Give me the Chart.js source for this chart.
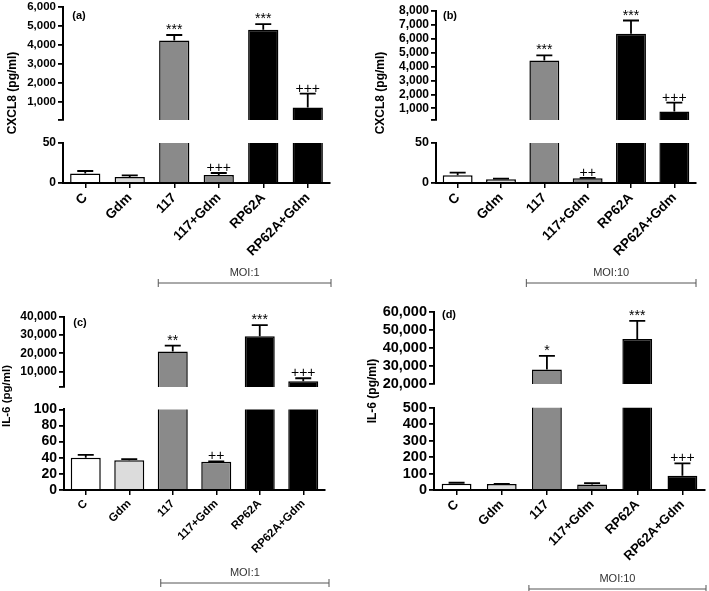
<!DOCTYPE html>
<html>
<head>
<meta charset="utf-8">
<script src="https://cdn.jsdelivr.net/npm/chart.js@4.4.1/dist/chart.umd.min.js"></script>
<style>
  body { margin: 0; background: #fff; }
  #page { position: relative; width: 709px; height: 591px; overflow: hidden; font-family: 'Liberation Sans', Arial, sans-serif; }
  #page canvas { position: absolute; }
  .txt { position: absolute; font-weight: bold; color: #000; white-space: nowrap; transform: translate(-50%, -50%); }
  .ytitle { transform: translate(-50%, -50%) rotate(-90deg); }
</style>
</head>
<body>
<div id="page"></div>
<script>
const categories = ['C', 'Gdm', '117', '117+Gdm', 'RP62A', 'RP62A+Gdm']

// (a) CXCL8, MOI 1
const cxcl8Moi1 = [11.8, 7.5, 4240, 10, 4800, 720]
const cxcl8Moi1Sem = [3.2, 2, 290, 2.5, 300, 730]
const cxcl8Moi1Sig = ['', '', '***', '+++', '***', '+++']

// (b) CXCL8, MOI 10
const cxcl8Moi10 = [9.6, 4.6, 4440, 5.9, 6370, 780]
const cxcl8Moi10Sem = [3.4, 0.8, 376, 0.6, 946, 634]
const cxcl8Moi10Sig = ['', '', '***', '++', '***', '+++']

// (c) IL-6, MOI 1
const il6Moi1 = [40, 37, 21070, 35, 29400, 4700]
const il6Moi1Sem = [3.7, 1.3, 3230, 0.5, 6100, 1600]
const il6Moi1Sig = ['', '', '**', '++', '***', '+++']

// (d) IL-6, MOI 10
const il6Moi10 = [38, 36, 28030, 34, 44860, 87]
const il6Moi10Sem = [6, 1, 7500, 8, 10090, 75]
const il6Moi10Sig = ['', '', '*', '', '***', '+++']

// tick labels, upper and lower segment of each broken axis
const ticksAUpper = [1000, 2000, 3000, 4000, 5000, 6000]
const ticksALower = [0, 50]
const ticksBUpper = [1000, 2000, 3000, 4000, 5000, 6000, 7000, 8000]
const ticksBLower = [0, 50]
const ticksCUpper = [10000, 20000, 30000, 40000]
const ticksCLower = [0, 20, 40, 60, 80, 100]
const ticksDUpper = [20000, 30000, 40000, 50000, 60000]
const ticksDLower = [0, 100, 200, 300, 400, 500]

const barColors = ['#ffffff', '#dcdcdc', '#8a8a8a', '#8a8a8a', '#000000', '#000000']

// layout of the four panels (page pixels)
const panels = [
  { label: '(a)', labelPos: [79, 15], yTitle: 'CXCL8 (pg/ml)', titlePos: [12, 93], titleSize: 12, moi: 'MOI:1',
    values: cxcl8Moi1, sem: cxcl8Moi1Sem, sig: cxcl8Moi1Sig,
    left: 0, areaLeft: 63, areaRight: 330, width: 340, canvasBottom: 290, xFont: 13.5, barPct: 0.68, sigFont: 14,
    upper: { min: 70, max: 6000, ticks: ticksAUpper, top: 7, bottom: 130, font: 11.5 },
    lower: { min: 0, max: 50, ticks: ticksALower, top: 143, bottom: 183, font: 12 },
    bracket: { from: -16, to: 1, y: 283 } },
  { label: '(b)', labelPos: [450, 15], yTitle: 'CXCL8 (pg/ml)', titlePos: [380, 93], titleSize: 12, moi: 'MOI:10',
    values: cxcl8Moi10, sem: cxcl8Moi10Sem, sig: cxcl8Moi10Sig,
    left: 355, areaLeft: 436, areaRight: 696, width: 351, canvasBottom: 290, xFont: 13.5, barPct: 0.69, sigFont: 14,
    upper: { min: 164, max: 8000, ticks: ticksBUpper, top: 11, bottom: 130, font: 12 },
    lower: { min: 0, max: 50, ticks: ticksBLower, top: 143, bottom: 183, font: 12.5 },
    bracket: { from: -18, to: 0, y: 283 } },
  { label: '(c)', labelPos: [80, 322], yTitle: 'IL-6 (pg/ml)', titlePos: [6, 396], titleSize: 11.5, moi: 'MOI:1',
    values: il6Moi1, sem: il6Moi1Sem, sig: il6Moi1Sig,
    left: 0, areaLeft: 64, areaRight: 325, width: 340, canvasBottom: 591, xFont: 11.5, barPct: 0.69, sigFont: 14,
    upper: { min: 1500, max: 40000, ticks: ticksCUpper, top: 317, bottom: 397, font: 12 },
    lower: { min: 0, max: 100, ticks: ticksCLower, top: 409, bottom: 490, font: 14 },
    bracket: { from: -12, to: 4, y: 583 } },
  { label: '(d)', labelPos: [449, 314], yTitle: 'IL-6 (pg/ml)', titlePos: [372, 391], titleSize: 12, moi: 'MOI:10',
    values: il6Moi10, sem: il6Moi10Sem, sig: il6Moi10Sig,
    left: 355, areaLeft: 434, areaRight: 705, width: 354, canvasBottom: 591, xFont: 13, barPct: 0.66, sigFont: 14,
    upper: { min: 20000, max: 60000, ticks: ticksDUpper, top: 311, bottom: 394, font: 14.5 },
    lower: { min: 0, max: 500, ticks: ticksDLower, top: 407, bottom: 490, font: 14.5 },
    bracket: { from: -18, to: 1, y: 589 } }
]

const page = document.querySelector('#page')
const fontFamily = "'Liberation Sans', Arial, sans-serif"
Chart.defaults.font.family = fontFamily
Chart.defaults.color = '#000'

function addText(text, pos, size, cls) {
  const el = document.createElement('div')
  el.className = 'txt ' + (cls || '')
  el.textContent = text
  el.style.left = pos[0] + 'px'
  el.style.top = pos[1] + 'px'
  el.style.fontSize = size + 'px'
  page.appendChild(el)
}

// SEM whiskers (upper half only) and significance marks
function errorBarPlugin(p) {
  return {
    id: 'errorBars',
    afterDatasetsDraw(chart) {
      const ctx = chart.ctx
      const y = chart.scales.y
      const bars = chart.getDatasetMeta(0).data
      ctx.save()
      ctx.strokeStyle = '#000'
      ctx.fillStyle = '#000'
      ctx.lineWidth = 1.8
      ctx.textAlign = 'center'
      ctx.textBaseline = 'alphabetic'
      ctx.font = p.sigFont + 'px ' + fontFamily
      p.values.forEach((v, i) => {
        const hi = v + p.sem[i]
        if (hi < y.min || hi > y.max) return
        const cx = bars[i].x
        const top = y.getPixelForValue(hi)
        const base = y.getPixelForValue(Math.max(v, y.min))
        ctx.beginPath()
        ctx.moveTo(cx, base)
        ctx.lineTo(cx, top)
        ctx.moveTo(cx - 8, top)
        ctx.lineTo(cx + 8, top)
        ctx.stroke()
        if (p.sig[i]) ctx.fillText(p.sig[i], cx, top - 1)
      })
      ctx.restore()
    }
  }
}

function bracketPlugin(p, canvasTop) {
  return {
    id: 'moiBracket',
    afterDraw(chart) {
      const ctx = chart.ctx
      const x0 = chart.scales.x.getPixelForValue(2) + p.bracket.from
      const x1 = chart.chartArea.right + p.bracket.to
      const yy = p.bracket.y - canvasTop
      ctx.save()
      ctx.strokeStyle = '#555'
      ctx.lineWidth = 1
      ctx.beginPath()
      ctx.moveTo(x0, yy)
      ctx.lineTo(x1, yy)
      ctx.moveTo(x0, yy - 4)
      ctx.lineTo(x0, yy + 4)
      ctx.moveTo(x1, yy - 4)
      ctx.lineTo(x1, yy + 4)
      ctx.stroke()
      ctx.fillStyle = '#333'
      ctx.font = '11px ' + fontFamily
      ctx.textAlign = 'center'
      ctx.textBaseline = 'middle'
      ctx.fillText(p.moi, (x0 + x1) / 2, yy - 10)
      ctx.restore()
    }
  }
}

function drawSegment(p, seg, lower) {
  const canvas = document.createElement('canvas')
  const top = seg.top - 10
  const bottom = lower ? p.canvasBottom : seg.bottom + 10
  canvas.width = p.width
  canvas.height = bottom - top
  canvas.style.left = p.left + 'px'
  canvas.style.top = top + 'px'
  page.appendChild(canvas)

  const axisW = p.areaLeft - p.left
  const xH = (bottom - top) - 10 - (seg.bottom - seg.top)
  const labelled = seg.ticks
  const plugins = [errorBarPlugin(p)]
  if (lower) plugins.push(bracketPlugin(p, top))

  new Chart(canvas, {
    type: 'bar',
    data: {
      labels: categories,
      datasets: [{
        data: p.values,
        backgroundColor: barColors,
        borderColor: '#000',
        borderWidth: 1.5,
        barPercentage: p.barPct,
        categoryPercentage: 1,
        clip: 0
      }]
    },
    options: {
      responsive: false,
      animation: false,
      devicePixelRatio: 1,
      layout: { padding: { top: 10, bottom: lower ? 0 : 10, left: 0, right: p.width - (p.areaRight - p.left) } },
      plugins: { legend: { display: false }, tooltip: { enabled: false } },
      scales: {
        x: {
          display: lower,
          offset: true,
          border: { color: '#000', width: 2 },
          grid: { drawOnChartArea: false, offset: false, tickLength: 5, color: '#000', lineWidth: 1.5 },
          ticks: { autoSkip: false, minRotation: 45, maxRotation: 45, padding: 2, font: { size: p.xFont, weight: 'bold' } },
          afterFit: s => { s.height = xH }
        },
        y: {
          min: seg.min,
          max: seg.max,
          border: { color: '#000', width: 2 },
          grid: { drawOnChartArea: false, tickLength: 5, color: '#000', lineWidth: 1.8 },
          ticks: {
            autoSkip: false,
            padding: 2,
            font: { size: seg.font, weight: 'bold' },
            callback: v => labelled.includes(v) ? v.toLocaleString('en-US') : ''
          },
          afterBuildTicks: s => {
            const vals = labelled.includes(seg.min) ? labelled : [seg.min].concat(labelled)
            s.ticks = vals.map(v => ({ value: v }))
          },
          afterFit: s => { s.width = axisW }
        }
      }
    },
    plugins: plugins
  })
}

panels.forEach(p => {
  drawSegment(p, p.upper, false)
  drawSegment(p, p.lower, true)
  addText(p.label, p.labelPos, 11)
  addText(p.yTitle, p.titlePos, p.titleSize, 'ytitle')
})
</script>
</body>
</html>
